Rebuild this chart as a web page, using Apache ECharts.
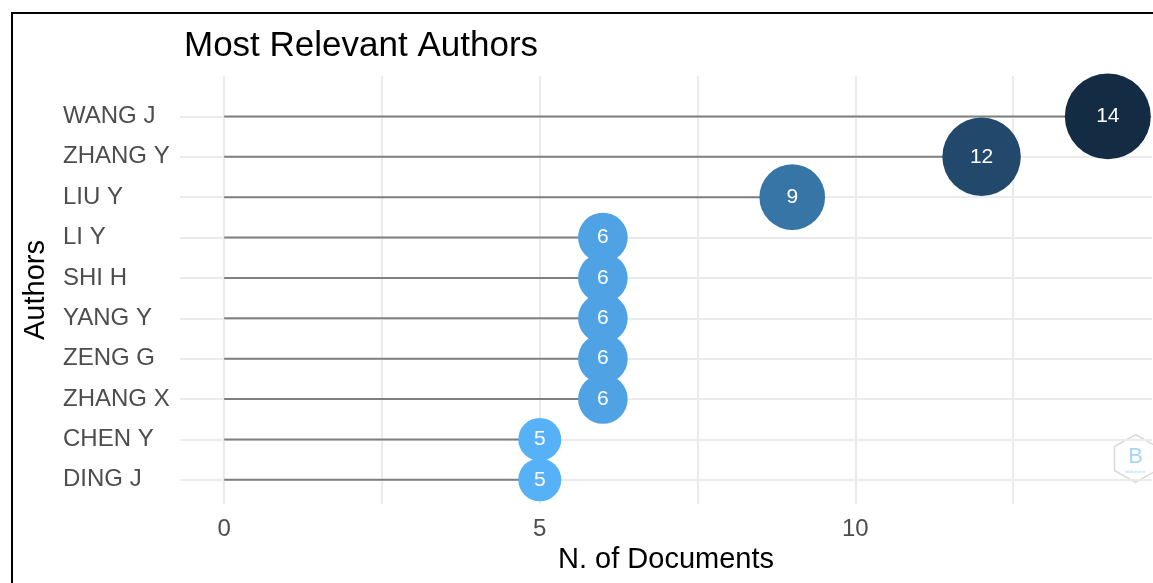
<!DOCTYPE html>
<html>
<head>
<meta charset="utf-8">
<title>Most Relevant Authors</title>
<script src="https://cdn.jsdelivr.net/npm/echarts@6/dist/echarts.min.js"></script>
<style>
  html, body { margin: 0; padding: 0; background: #fff; }
  #chart { width: 1153px; height: 583px; }
</style>
</head>
<body>
<div id="chart"></div>
<script>
  // data, top row first
  var authors = ['WANG J', 'ZHANG Y', 'LIU Y', 'LI Y', 'SHI H', 'YANG Y', 'ZENG G', 'ZHANG X', 'CHEN Y', 'DING J'];
  var documents = [14, 12, 9, 6, 6, 6, 6, 6, 5, 5];
  var xTickLabels = [0, 5, 10];
  var xGridValues = [0, 2.5, 5, 7.5, 10, 12.5];

  var rowIndex = authors.map(function (a, i) { return i; });
  var points = documents.map(function (v, i) { return [v, i]; });

  var chartDom = document.getElementById('chart');
  var myChart = echarts.init(chartDom);
  var font = 'Liberation Sans, Arial, sans-serif';

  var option = {
    backgroundColor: '#fff',
    animation: false,
    title: {
      text: 'Most Relevant Authors',
      left: 179,
      top: 24,
      textStyle: { fontFamily: font, fontSize: 35, fontWeight: 'normal', color: '#000' }
    },
    grid: { left: 180, right: 1, top: 76, bottom: 79 },
    xAxis: {
      type: 'value',
      min: -0.7,
      max: 14.7,
      name: 'N. of Documents',
      nameLocation: 'middle',
      nameGap: 40,
      nameTextStyle: { fontFamily: font, fontSize: 29, color: '#000' },
      axisLine: { show: false },
      axisTick: { show: false, customValues: xGridValues },
      axisLabel: {
        customValues: xTickLabels,
        margin: 13,
        fontFamily: font,
        fontSize: 24,
        color: '#4D4D4D'
      },
      splitLine: { show: true, lineStyle: { color: '#EBEBEB', width: 2 } }
    },
    yAxis: {
      type: 'value',
      inverse: true,
      min: -1,
      max: 9.6,
      name: 'Authors',
      nameLocation: 'middle',
      nameGap: 130,
      nameTextStyle: { fontFamily: font, fontSize: 29, color: '#000' },
      axisLine: { show: false },
      axisTick: { show: false, customValues: rowIndex },
      axisLabel: {
        customValues: rowIndex,
        align: 'left',
        margin: 117,
        fontFamily: font,
        fontSize: 24,
        color: '#4D4D4D',
        formatter: function (v) { return authors[Math.round(v)]; }
      },
      splitLine: { show: true, lineStyle: { color: '#EBEBEB', width: 2 } }
    },
    visualMap: {
      show: false,
      type: 'continuous',
      seriesIndex: 1,
      dimension: 0,
      min: 5,
      max: 14,
      inRange: { color: ['#56B1F7', '#132B43'] }
    },
    series: [
      {
        // stems
        type: 'custom',
        data: points,
        z: 2,
        renderItem: function (params, api) {
          var start = api.coord([0, api.value(1)]);
          var end = api.coord([api.value(0), api.value(1)]);
          return {
            type: 'line',
            shape: { x1: start[0], y1: start[1], x2: end[0], y2: end[1] },
            style: { stroke: '#7F7F7F', lineWidth: 2 }
          };
        }
      },
      {
        // bubbles, area grows with N. of documents
        type: 'scatter',
        data: points,
        z: 3,
        symbol: 'circle',
        symbolSize: function (val) { return Math.sqrt(616 * val[0] - 1233); },
        itemStyle: { opacity: 1 },
        label: {
          show: true,
          position: 'inside',
          color: '#fff',
          fontFamily: font,
          fontSize: 21,
          formatter: function (p) { return p.value[0]; }
        },
        emphasis: { disabled: true }
      }
    ],
    graphic: [
      {
        // frame
        type: 'rect',
        shape: { x: 12, y: 13, width: 1300, height: 700 },
        style: { fill: 'none', stroke: '#000', lineWidth: 2 },
        z: 10
      },
      {
        // logo watermark
        type: 'group',
        left: 1112,
        top: 432,
        children: [
          {
            type: 'polygon',
            shape: { points: [[21, 0], [42, 12], [42, 36], [21, 48], [0, 36], [0, 12]] },
            style: { fill: 'none', stroke: '#D9D9D9', lineWidth: 1.5 }
          },
          {
            type: 'text',
            x: 21, y: 22,
            style: { text: 'B', fontFamily: font, fontSize: 22, fill: '#A9D6F5', align: 'center', verticalAlign: 'middle' }
          },
          {
            type: 'text',
            x: 21, y: 37,
            style: { text: 'bibliometrix', fontFamily: font, fontSize: 4, fill: '#A9D6F5', align: 'center', verticalAlign: 'middle' }
          }
        ]
      }
    ]
  };

  myChart.setOption(option);
</script>
</body>
</html>
